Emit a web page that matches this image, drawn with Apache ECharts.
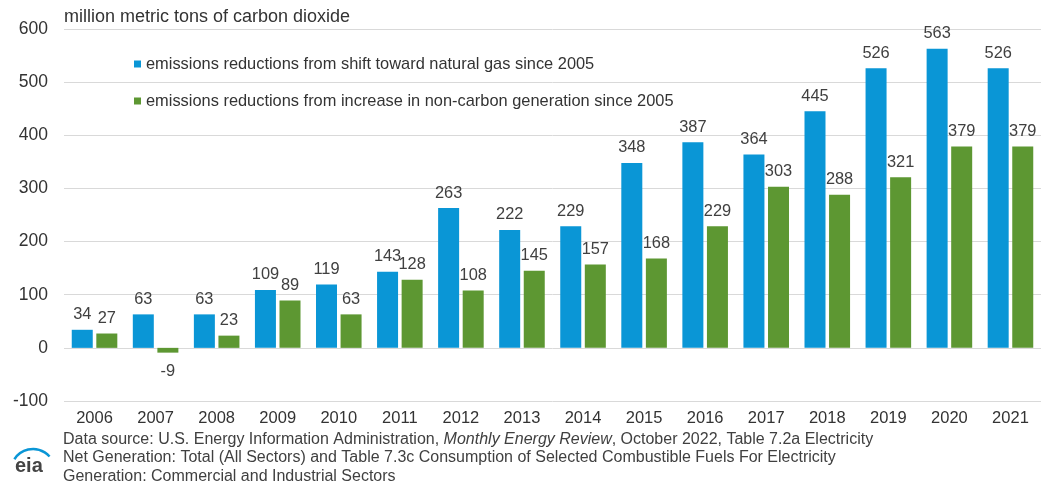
<!DOCTYPE html>
<html>
<head>
<meta charset="utf-8">
<script src="https://cdn.jsdelivr.net/npm/echarts@6/dist/echarts.min.js"></script>
<style>
  html, body { margin: 0; padding: 0; background: #fff; }
  #chart { width: 1042px; height: 482px; }
</style>
</head>
<body>
<div id="chart"></div>
<script>
var years = ['2006','2007','2008','2009','2010','2011','2012','2013','2014','2015','2016','2017','2018','2019','2020','2021'];
var gasShift = [34, 63, 63, 109, 119, 143, 263, 222, 229, 348, 387, 364, 445, 526, 563, 526];
var nonCarbon = [27, -9, 23, 89, 63, 128, 108, 145, 157, 168, 229, 303, 288, 321, 379, 379];
var seriesNames = [
    'emissions reductions from shift toward natural gas since 2005',
    'emissions reductions from increase in non-carbon generation since 2005'
];

var myColor = ['#0a96d6', '#5d9732'];
var textFont = 'Liberation Sans, Arial, sans-serif';

// negative values get their label under the bar
function withLabels(values) {
    return values.map(function (v) {
        if (v < 0) {
            return { value: v, label: { position: 'bottom', distance: 11 } };
        }
        return v;
    });
}

var chart = echarts.init(document.getElementById('chart'));
var option = {
    animation: false,
    color: myColor,
    textStyle: { fontFamily: textFont },
    grid: { left: 64, right: 1, top: 29, bottom: 81 },
    legend: {
        data: seriesNames,
        orient: 'vertical',
        left: 129,
        top: 51,
        itemWidth: 7,
        itemHeight: 7,
        itemGap: 21,
        icon: 'rect',
        textStyle: { fontSize: 16.4, color: '#333', fontFamily: textFont }
    },
    xAxis: {
        type: 'category',
        data: years,
        axisLine: { show: false },
        axisTick: { show: false },
        axisLabel: { fontSize: 16.5, color: '#333', margin: 9 }
    },
    yAxis: {
        type: 'value',
        min: -100,
        max: 600,
        interval: 100,
        axisLabel: { fontSize: 17.5, color: '#333', margin: 16 },
        splitLine: { lineStyle: { color: '#d9d9d9', width: 1 } }
    },
    series: [
        {
            name: seriesNames[0],
            type: 'bar',
            data: withLabels(gasShift),
            barWidth: 21,
            barGap: '17%',
            label: { show: true, position: 'top', distance: 7, fontSize: 16.4, color: '#404040' }
        },
        {
            name: seriesNames[1],
            type: 'bar',
            data: withLabels(nonCarbon),
            barWidth: 21,
            label: { show: true, position: 'top', distance: 7, fontSize: 16.4, color: '#404040' }
        }
    ],
    graphic: [
        {
            type: 'text',
            left: 64,
            top: 8,
            style: { text: 'million metric tons of carbon dioxide', fontSize: 18, fill: '#333', fontFamily: textFont }
        },
        {
            type: 'text',
            left: 63,
            top: 430,
            style: {
                text: 'Data source: U.S. Energy Information Administration, {i|Monthly Energy Review}, October 2022, Table 7.2a Electricity\nNet Generation: Total (All Sectors) and Table 7.3c Consumption of Selected Combustible Fuels For Electricity\nGeneration: Commercial and Industrial Sectors',
                fontSize: 16,
                lineHeight: 18.5,
                fill: '#404040',
                fontFamily: textFont,
                rich: {
                    i: { fontStyle: 'italic', fontSize: 16, lineHeight: 18.5, fill: '#404040', fontFamily: textFont }
                }
            }
        },
        {
            type: 'arc',
            shape: { cx: 33, cy: 471, r: 22, startAngle: -2.58, endAngle: -0.72 },
            style: { stroke: '#0a96d6', lineWidth: 2.5, fill: null }
        },
        {
            type: 'text',
            left: 15,
            top: 456,
            style: { text: 'eia', fontSize: 20, fontWeight: 'bold', fill: '#444', fontFamily: textFont }
        }
    ]
};
chart.setOption(option);
</script>
</body>
</html>
